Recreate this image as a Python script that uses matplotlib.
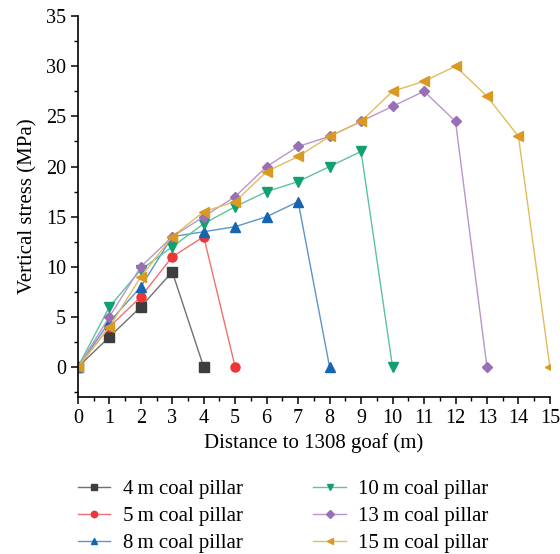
import numpy as np
import matplotlib
matplotlib.use("Agg")
import matplotlib.pyplot as plt
from matplotlib.ticker import MultipleLocator

plt.rcParams['font.family'] = ['Liberation Serif', 'DejaVu Serif']

# distances along the pillar (m) and vertical stress (MPa)
x_4 = [0, 1, 2, 3, 4]
y_4 = [0, 3, 6, 9.5, 0]
x_5 = [0, 1, 2, 3, 4, 5]
y_5 = [0, 4, 7, 11, 13, 0]
x_8 = [0, 1, 2, 3, 4, 5, 6, 7, 8]
y_8 = [0, 4.5, 8, 13, 13.5, 14, 15, 16.5, 0]
x_10 = [0, 1, 2, 3, 4, 5, 6, 7, 8, 9, 10]
y_10 = [0, 6, 9.7, 12, 14.3, 16, 17.5, 18.5, 20, 21.5, 0]
x_13 = [0, 1, 2, 3, 4, 5, 6, 7, 8, 9, 10, 11, 12, 13]
y_13 = [0, 5, 10, 13, 15, 17, 20, 22, 23, 24.5, 26, 27.5, 24.5, 0]
x_15 = list(range(16))
y_15 = [0, 4, 9, 13, 15.5, 16.5, 19.5, 21, 23, 24.5, 27.5, 28.5, 30, 27, 23, 0]

labels = ["4\u2009m coal pillar", "5\u2009m coal pillar", "8\u2009m coal pillar",
          "10\u2009m coal pillar", "13\u2009m coal pillar", "15\u2009m coal pillar"]

series = [(x_4, y_4, '#3d3d3d', '#707070', 's'),
          (x_5, y_5, '#ee3535', '#f07070', 'o'),
          (x_8, y_8, '#1565b0', '#5b95cc', '^'),
          (x_10, y_10, '#12a070', '#5cc49a', 'v'),
          (x_13, y_13, '#9b6fb5', '#b896cc', 'D'),
          (x_15, y_15, '#d89a22', '#e2bb60', '<')]

fig = plt.figure(figsize=(5.6, 5.54), dpi=100)
ax = fig.add_axes([0.139, 0.283, 0.843, 0.688])

for (xs, ys, mc, lc, m), lab in zip(series, labels):
    ax.plot(xs, ys, color=lc, lw=1.0, marker=m, markersize=6.5 if m != 'D' else 5.5,
            markerfacecolor=mc, markeredgecolor=mc, label=lab)

ax.set_xlim(0, 15)
ax.set_ylim(-3, 35)
ax.xaxis.set_major_locator(MultipleLocator(1))
ax.xaxis.set_minor_locator(MultipleLocator(0.5))
ax.yaxis.set_major_locator(MultipleLocator(5))
ax.yaxis.set_minor_locator(MultipleLocator(2.5))
ax.spines['top'].set_visible(False)
ax.spines['right'].set_visible(False)
ax.spines['left'].set_linewidth(1.2)
ax.spines['bottom'].set_linewidth(1.2)
ax.tick_params(which='major', direction='out', length=5, width=1.1, labelsize=14.5)
ax.tick_params(which='minor', direction='out', length=3, width=1.0)

ax.set_xlabel("Distance to 1308 goaf (m)", fontsize=15, labelpad=4)
ax.set_ylabel("Vertical stress (MPa)", fontsize=15, labelpad=6)

fig.legend(loc='upper left', bbox_to_anchor=(0.139, 0.135), ncol=2, frameon=False,
           fontsize=15, columnspacing=3.4, handlelength=1.55, handletextpad=0.6,
           labelspacing=0.36, borderpad=0, borderaxespad=0, markerscale=0.7)

fig.savefig("out.png", dpi=100)
